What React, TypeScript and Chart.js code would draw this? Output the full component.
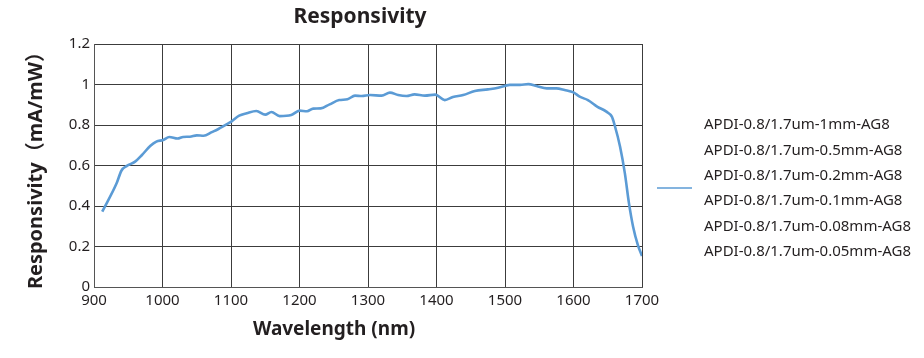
import React, { useEffect, useRef } from 'react';
import { Chart, registerables } from 'chart.js';

Chart.register(...registerables);

const chartTitle = 'Responsivity';
const xTitle = 'Wavelength (nm)';
const yTitle = 'Responsivity（mA/mW）';

const wavelengths = [
  912, 933, 940, 948, 960, 970, 982, 991, 1001, 1010, 1022, 1030, 1040, 1050, 1060, 1072, 1081, 1091,
  1101, 1112, 1123, 1137, 1150, 1159, 1171, 1188, 1200, 1211, 1220, 1231, 1244, 1258, 1270, 1281, 1291,
  1303, 1320, 1332, 1344, 1356, 1368, 1383, 1398, 1412, 1424, 1439, 1456, 1475, 1490, 1507, 1522, 1534,
  1546, 1561, 1575, 1587, 1600, 1609, 1621, 1635, 1648, 1656, 1660, 1668, 1675, 1681, 1687, 1694, 1700,
];

const responsivity = [
  0.372, 0.512, 0.574, 0.598, 0.619, 0.652, 0.696, 0.718, 0.726, 0.741, 0.733, 0.741, 0.742, 0.749, 0.747,
  0.765, 0.779, 0.798, 0.818, 0.846, 0.858, 0.869, 0.851, 0.864, 0.844, 0.849, 0.871, 0.868, 0.881, 0.882,
  0.902, 0.923, 0.927, 0.945, 0.943, 0.948, 0.945, 0.96, 0.948, 0.943, 0.951, 0.945, 0.95, 0.923, 0.938,
  0.948, 0.968, 0.976, 0.984, 0.998, 0.998, 1.002, 0.993, 0.981, 0.981, 0.973, 0.961, 0.94, 0.923, 0.89,
  0.866, 0.841, 0.8, 0.693, 0.561, 0.413, 0.298, 0.207, 0.153,
];

const xTickLabels = ['900', '1000', '1100', '1200', '1300', '1400', '1500', '1600', '1700'];
const yTickLabels = ['0', '0.2', '0.4', '0.6', '0.8', '1', '1.2'];

const legendLabels = [
  'APDI-0.8/1.7um-1mm-AG8',
  'APDI-0.8/1.7um-0.5mm-AG8',
  'APDI-0.8/1.7um-0.2mm-AG8',
  'APDI-0.8/1.7um-0.1mm-AG8',
  'APDI-0.8/1.7um-0.08mm-AG8',
  'APDI-0.8/1.7um-0.05mm-AG8',
];

const FONT = "'Noto Sans', 'Noto Sans CJK SC', sans-serif";
const TEXT = '#231f20';
const LINE = '#5b9bd5';
const GRID = '#3c3c3c';

const extrasPlugin = {
  id: 'extras',
  afterDraw(chart: any) {
    const ctx = chart.ctx as CanvasRenderingContext2D;
    ctx.save();
    ctx.fillStyle = TEXT;
    ctx.textAlign = 'center';
    ctx.textBaseline = 'middle';
    ctx.font = `bold 21px ${FONT}`;
    ctx.fillText(chartTitle, 360, 17);
    ctx.font = `bold 19px ${FONT}`;
    ctx.fillText(xTitle, 334, 330);

    ctx.font = `15px ${FONT}`;
    ctx.textAlign = 'left';
    legendLabels.forEach((t, i) => {
      ctx.fillText(t, 704, 125 + i * 25.4);
    });
    ctx.strokeStyle = LINE;
    ctx.lineWidth = 1.5;
    ctx.beginPath();
    ctx.moveTo(657, 188);
    ctx.lineTo(692, 188);
    ctx.stroke();
    ctx.restore();
  },
};

export default function App() {
  const ref = useRef<HTMLCanvasElement>(null);

  useEffect(() => {
    if (!ref.current) return;
    const chart = new Chart(ref.current, {
      type: 'line',
      data: {
        datasets: [
          {
            label: legendLabels[0],
            data: wavelengths.map((w, i) => ({ x: w, y: responsivity[i] })),
            borderColor: LINE,
            borderWidth: 2.6,
            pointRadius: 0,
            fill: false,
            cubicInterpolationMode: 'monotone',
          },
        ],
      },
      options: {
        animation: false,
        responsive: true,
        maintainAspectRatio: false,
        layout: { padding: { top: 44, right: 282, left: 0, bottom: 0 } },
        plugins: {
          legend: { display: false },
          title: { display: false },
          tooltip: { enabled: false },
        },
        scales: {
          x: {
            type: 'linear',
            min: 900,
            max: 1700,
            ticks: {
              stepSize: 100,
              color: TEXT,
              font: { family: FONT, size: 15 },
              padding: 5,
              maxRotation: 0,
              callback: (_v: any, i: number) => xTickLabels[i],
            },
            grid: { color: GRID, lineWidth: 1, drawTicks: false },
            border: { color: '#555', width: 1 },
            afterFit: (s: any) => {
              s.height = 71;
            },
          },
          y: {
            min: 0,
            max: 1.2,
            ticks: {
              stepSize: 0.2,
              color: TEXT,
              font: { family: FONT, size: 15 },
              padding: 4,
              callback: (_v: any, i: number) => yTickLabels[i],
            },
            grid: { color: GRID, lineWidth: 1, drawTicks: false },
            border: { color: '#555', width: 1 },
            title: {
              display: true,
              text: yTitle,
              color: TEXT,
              font: { family: FONT, size: 20, weight: 'bold' },
              padding: { top: 24, bottom: 0 },
            },
            afterFit: (s: any) => {
              s.width = 94;
            },
          },
        },
      },
      plugins: [extrasPlugin],
    });
    return () => chart.destroy();
  }, []);

  return (
    <div style={{ position: 'fixed', left: 0, top: 0, width: 924, height: 358, background: '#fff' }}>
      <canvas ref={ref} />
    </div>
  );
}
